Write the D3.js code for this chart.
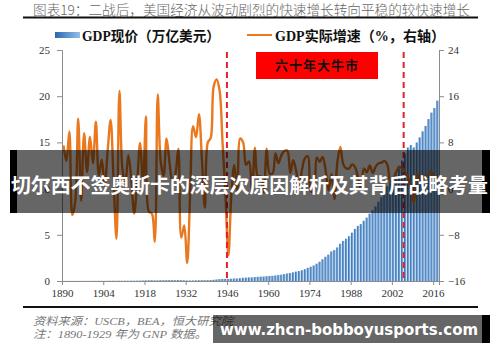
<!DOCTYPE html>
<html lang="zh">
<head>
<meta charset="UTF-8">
<title>美国GDP</title>
<script src="https://d3js.org/d3.v7.min.js"></script>
<style>
  body { margin: 0; background: #fff; }
  .tick text { font-family: "Liberation Serif", "DejaVu Serif", serif; font-size: 11px; fill: #333; }
  .axis path, .axis line { stroke: #8c8c8c; }
</style>
</head>
<body>
<svg id="chart" width="500" height="362"></svg>
<script>
// years 1890..2017
const firstYear = 1890;
// nominal GDP (GNP before 1930), trillion USD
const gdp = [
  0.013, 0.013, 0.014, 0.014, 0.013, 0.014, 0.013, 0.014, 0.015, 0.017,
  0.019, 0.021, 0.022, 0.023, 0.023, 0.025, 0.028, 0.030, 0.027, 0.031,
  0.033, 0.034, 0.037, 0.038, 0.037, 0.039, 0.047, 0.058, 0.072, 0.080,
  0.088, 0.074, 0.074, 0.086, 0.088, 0.091, 0.097, 0.096, 0.098, 0.105,
  0.092, 0.078, 0.060, 0.057, 0.067, 0.075, 0.085, 0.093, 0.087, 0.093,
  0.103, 0.130, 0.166, 0.203, 0.225, 0.228, 0.227, 0.250, 0.275, 0.272,
  0.300, 0.348, 0.368, 0.389, 0.391, 0.426, 0.450, 0.474, 0.482, 0.522,
  0.543, 0.563, 0.605, 0.639, 0.686, 0.744, 0.815, 0.862, 0.943, 1.019,
  1.074, 1.165, 1.280, 1.425, 1.545, 1.684, 1.873, 2.082, 2.352, 2.627,
  2.857, 3.207, 3.343, 3.634, 4.037, 4.339, 4.580, 4.855, 5.236, 5.642,
  5.963, 6.158, 6.520, 6.859, 7.287, 7.640, 8.073, 8.578, 9.063, 9.631,
  10.252, 10.582, 10.936, 11.458, 12.214, 13.037, 13.815, 14.452, 14.713, 14.449,
  14.992, 15.543, 16.197, 16.785, 17.527, 18.225, 18.715, 19.519
];
// real GDP growth, %
const growth = [
  7.5, 4.8, 9.9, -4.6, -2.2, 12.1, -2.1, 9.6, 2.9, 9.0,
  4.4, 11.6, 2.3, 5.0, 0.5, 6.5, 11.9, 1.6, -8.7, 16.9,
  3.5, 0.8, 5.8, 1.8, -4.3, 1.0, 7.9, 0.8, 12.5, -4.0,
  -4.3, -9.2, 16.3, 4.8, 2.2, 8.7, 4.5, 1.2, 2.5, 6.9,
  -8.5, -6.4, -12.9, -1.2, 10.8, 8.9, 12.9, 5.1, -3.3, 8.0,
  8.8, 17.7, 18.9, 17.0, 8.0, -1.0, -11.6, -1.1, 4.1, -0.6,
  8.7, 8.0, 4.1, 4.7, -0.6, 7.1, 2.1, 2.1, -0.7, 6.9,
  2.6, 2.6, 6.1, 4.4, 5.8, 6.5, 6.6, 2.7, 4.9, 3.1,
  0.2, 3.3, 5.3, 5.6, -0.5, -0.2, 5.4, 4.6, 5.5, 3.2,
  -0.3, 2.5, -1.8, 4.6, 7.2, 4.2, 3.5, 3.5, 4.2, 3.7,
  1.9, -0.1, 3.5, 2.8, 4.0, 2.7, 3.8, 4.4, 4.5, 4.8,
  4.1, 1.0, 1.7, 2.9, 3.8, 3.5, 2.9, 1.9, -0.1, -2.5,
  2.6, 1.6, 2.2, 1.7, 2.6, 2.9, 1.6, 2.2
];
const xTicks = [1890, 1904, 1918, 1932, 1946, 1960, 1974, 1988, 2002, 2016];
const leftTicks = [0, 5, 10, 15, 20, 25];
const rightTicks = [-16, -8, 0, 8, 16, 24];
const markYears = [1946, 2006];

const title = "图表19：二战后，美国经济从波动剧烈的快速增长转向平稳的较快速增长";
const legendBar = "GDP现价（万亿美元）";
const legendLine = "GDP实际增速（%，右轴）";
const boxLabel = "六十年大牛市";
const sourceNote = "资料来源：USCB，BEA，恒大研究院";
const gnpNote = "注：1890-1929 年为 GNP 数据。";
const bannerText = "切尔西不签奥斯卡的深层次原因解析及其背后战略考量";
const siteText = "www.zhcn-bobboyusports.com";

const data = gdp.map((v, i) => ({ year: firstYear + i, gdp: v, growth: growth[i] }));

const svg = d3.select("#chart");
const cjkSerif = '"Liberation Serif", "Noto Sans CJK SC", serif';
const cjkSans = '"Noto Sans CJK SC", sans-serif';

const x = d3.scaleLinear().domain([1890, 2018]).range([62, 439]);
const yL = d3.scaleLinear().domain([0, 25]).range([281, 50]);
const yR = d3.scaleLinear().domain([-16, 24]).range([281, 50]);

// title
svg.append("text").attr("x", 33).attr("y", 15)
  .attr("font-family", cjkSans).attr("font-size", 13.5).attr("font-weight", 300)
  .attr("fill", "#666").attr("textLength", 437).attr("lengthAdjust", "spacingAndGlyphs")
  .text(title);
svg.append("line").attr("x1", 23).attr("x2", 478).attr("y1", 17.5).attr("y2", 17.5)
  .attr("stroke", "#111").attr("stroke-width", 2);

// gradient for bars
const defs = svg.append("defs");
const grad = defs.append("linearGradient").attr("id", "barGrad")
  .attr("x1", 0).attr("x2", 1).attr("y1", 0).attr("y2", 0);
grad.append("stop").attr("offset", "0%").attr("stop-color", "#2c67ad");
grad.append("stop").attr("offset", "100%").attr("stop-color", "#93bfea");

// legend
svg.append("rect").attr("x", 55).attr("y", 32).attr("width", 25).attr("height", 6)
  .attr("fill", "url(#barGrad)");
svg.append("text").attr("x", 82).attr("y", 41)
  .attr("font-family", cjkSerif).attr("font-size", 14).attr("font-weight", "bold").attr("fill", "#111")
  .attr("textLength", 138).attr("lengthAdjust", "spacingAndGlyphs")
  .text(legendBar);
svg.append("line").attr("x1", 247).attr("x2", 272).attr("y1", 35).attr("y2", 35)
  .attr("stroke", "#e9781f").attr("stroke-width", 2);
svg.append("text").attr("x", 275).attr("y", 41)
  .attr("font-family", cjkSerif).attr("font-size", 14).attr("font-weight", "bold").attr("fill", "#111")
  .attr("textLength", 170).attr("lengthAdjust", "spacingAndGlyphs")
  .text(legendLine);

// bars
const bw = x(1891) - x(1890);
svg.append("g").selectAll("rect")
  .data(data)
  .enter()
  .append("rect")
  .attr("x", d => x(d.year) + 0.3)
  .attr("width", bw - 0.6)
  .attr("y", d => yL(d.gdp))
  .attr("height", d => yL(0) - yL(d.gdp))
  .attr("fill", "url(#barGrad)");

// growth line
const line = d3.line()
  .x(d => x(d.year + 0.5))
  .y(d => yR(d.growth))
  .curve(d3.curveCatmullRom.alpha(0.5));
svg.append("path").datum(data)
  .attr("d", line)
  .attr("fill", "none")
  .attr("stroke", "#e9781f")
  .attr("stroke-width", 2.4)
  .attr("stroke-linejoin", "round");

// red dashed markers
svg.append("g").selectAll("line")
  .data(markYears)
  .enter()
  .append("line")
  .attr("x1", d => x(d)).attr("x2", d => x(d))
  .attr("y1", 52).attr("y2", 281)
  .attr("stroke", "#e4202b").attr("stroke-width", 2)
  .attr("stroke-dasharray", "6,4");

// red box
svg.append("rect").attr("x", 256).attr("y", 52).attr("width", 122).attr("height", 27)
  .attr("fill", "#ff0000");
svg.append("text").attr("x", 317).attr("y", 70).attr("text-anchor", "middle")
  .attr("font-family", cjkSerif).attr("font-size", 13).attr("font-weight", "bold").attr("fill", "#111")
  .attr("letter-spacing", 1)
  .text(boxLabel);

// axes
svg.append("g").attr("class", "axis")
  .attr("transform", "translate(62,0)")
  .call(d3.axisLeft(yL).tickValues(leftTicks).tickSize(5).tickPadding(7));
svg.append("g").attr("class", "axis")
  .attr("transform", "translate(439,0)")
  .call(d3.axisRight(yR).tickValues(rightTicks).tickSize(5).tickPadding(4));
svg.append("g").attr("class", "axis")
  .attr("transform", "translate(0,281)")
  .call(d3.axisBottom(x).tickValues(xTicks).tickFormat(d3.format("d")).tickSize(4).tickPadding(4));
svg.selectAll(".axis .domain").attr("stroke", "#8c8c8c");

// bottom rule and notes
svg.append("line").attr("x1", 23).attr("x2", 478).attr("y1", 307).attr("y2", 307)
  .attr("stroke", "#111").attr("stroke-width", 2);
svg.append("text").attr("x", 33).attr("y", 325)
  .attr("font-family", cjkSerif).attr("font-size", 11).attr("font-style", "italic").attr("fill", "#777")
  .attr("textLength", 200).attr("lengthAdjust", "spacingAndGlyphs")
  .text(sourceNote);
svg.append("text").attr("x", 33).attr("y", 338)
  .attr("font-family", cjkSerif).attr("font-size", 11).attr("font-style", "italic").attr("fill", "#777")
  .attr("textLength", 174).attr("lengthAdjust", "spacingAndGlyphs")
  .text(gnpNote);

// overlay banner
svg.append("rect").attr("x", 17).attr("y", 150).attr("width", 465).attr("height", 63)
  .attr("fill", "#000").attr("opacity", 0.6);
svg.append("rect").attr("x", 10).attr("y", 150).attr("width", 7).attr("height", 63).attr("fill", "#000");
svg.append("rect").attr("x", 482).attr("y", 150).attr("width", 8).attr("height", 63).attr("fill", "#000");
svg.append("text").attr("x", 11).attr("y", 193)
  .attr("font-family", cjkSans).attr("font-size", 20).attr("font-weight", "bold").attr("fill", "#fff")
  .attr("textLength", 477).attr("lengthAdjust", "spacingAndGlyphs")
  .text(bannerText);

// site banner
svg.append("rect").attr("x", 213).attr("y", 315).attr("width", 269).attr("height", 28)
  .attr("fill", "#000").attr("opacity", 0.6);
svg.append("rect").attr("x", 482).attr("y", 315).attr("width", 8).attr("height", 28).attr("fill", "#000");
svg.append("text").attr("x", 220).attr("y", 335)
  .attr("font-family", '"DejaVu Sans", sans-serif').attr("font-size", 16).attr("font-weight", "bold").attr("fill", "#fff")
  .attr("textLength", 258).attr("lengthAdjust", "spacingAndGlyphs")
  .text(siteText);
</script>
</body>
</html>
